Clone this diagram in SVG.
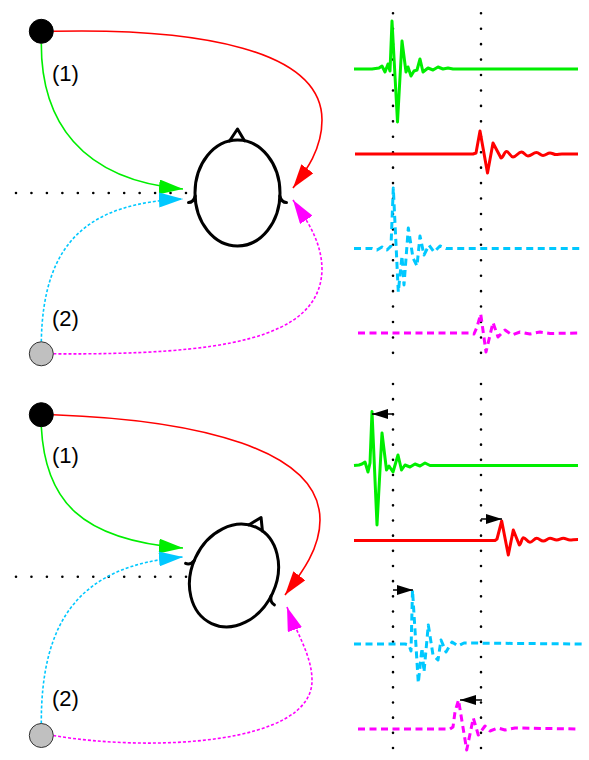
<svg xmlns="http://www.w3.org/2000/svg" width="589" height="760" viewBox="0 0 589 760">
  <style>
    .src { fill: #000000; stroke: #000000; stroke-width: 1; }
    .mic { fill: #c0c0c0; stroke: #333333; stroke-width: 1; }
    .head { fill: none; stroke: #000000; stroke-width: 3; stroke-linejoin: round; stroke-linecap: round; }
    .lbl { font-family: "Liberation Sans", Arial, sans-serif; font-size: 22px; fill: #000000; }
    .guide { fill: none; stroke: #000000; stroke-width: 2.6; stroke-linecap: round; stroke-dasharray: 0 1; }
    .conn { fill: none; stroke-width: 1.6; }
    .dotted { stroke-dasharray: 3 2; }
    .g { stroke: #00ee00; }
    .r { stroke: #ff0000; }
    .c { stroke: #00c8ff; }
    .m { stroke: #ff00ff; }
    .wave { fill: none; stroke-width: 3; stroke-linejoin: round; }
    .wdash { stroke-dasharray: 7 4.5; }
    .shift { fill: none; stroke: #000000; stroke-width: 1.5; }
  </style>
  <defs>
    <marker id="ahG" viewBox="0 0 24 15" refX="24" refY="7.5" markerWidth="24" markerHeight="15" markerUnits="userSpaceOnUse" orient="auto">
      <path d="M0,0 L24,7.5 L0,15 z" fill="#00ee00"/>
    </marker>
    <marker id="ahR" viewBox="0 0 24 15" refX="24" refY="7.5" markerWidth="24" markerHeight="15" markerUnits="userSpaceOnUse" orient="auto">
      <path d="M0,0 L24,7.5 L0,15 z" fill="#ff0000"/>
    </marker>
    <marker id="ahC" viewBox="0 0 24 15" refX="24" refY="7.5" markerWidth="24" markerHeight="15" markerUnits="userSpaceOnUse" orient="auto">
      <path d="M0,0 L24,7.5 L0,15 z" fill="#00c8ff"/>
    </marker>
    <marker id="ahM" viewBox="0 0 24 15" refX="24" refY="7.5" markerWidth="24" markerHeight="15" markerUnits="userSpaceOnUse" orient="auto">
      <path d="M0,0 L24,7.5 L0,15 z" fill="#ff00ff"/>
    </marker>
    <marker id="ahK" viewBox="0 0 16 10" refX="16" refY="5" markerWidth="16" markerHeight="10" markerUnits="userSpaceOnUse" orient="auto">
      <path d="M0,0 L16,5 L0,10 z" fill="#000000"/>
    </marker>
    <!-- head outline centred on the origin: skull, nose and both ears -->
    <g id="headShape">
      <ellipse cx="0" cy="0" rx="42.5" ry="53"/>
      <path d="M-8,-52 L0,-64 L7,-52.3"/>
      <path d="M-42.3,3 Q-44,9.5 -49,9.5"/>
      <path d="M42.3,3 Q44,9.5 49,9.5"/>
    </g>
  </defs>

  <rect x="0" y="0" width="589" height="760" fill="#ffffff"/>

  <!-- dotted reference lines -->
  <g id="guides">
    <path class="guide" d="M16,193 H186" pathLength="11"/>
    <path class="guide" d="M16,576.7 H186" pathLength="11"/>
    <path class="guide" d="M393,13.3 V368.3" pathLength="23"/>
    <path class="guide" d="M481,13.3 V368.3" pathLength="23"/>
    <path class="guide" d="M393,384 V748" pathLength="24"/>
    <path class="guide" d="M481,384 V748" pathLength="24"/>
  </g>

  <!-- propagation paths -->
  <g id="connectors">
    <!-- upper setup -->
    <path class="conn g" d="M41.3,43.5 C41,120 80,180 183,189" marker-end="url(#ahG)"/>
    <path class="conn c dotted" d="M41.3,341.8 C43,240 90,203 183,199" marker-end="url(#ahC)"/>
    <path class="conn r" d="M53.3,31.3 C200,28 322,50 322,120 C322,150 305,172 293,188" marker-end="url(#ahR)"/>
    <path class="conn m dotted" d="M53.3,353.8 C220,355 320,340 322,270 C322,240 305,218 293,200" marker-end="url(#ahM)"/>
    <!-- lower setup -->
    <path class="conn g" d="M41.3,426.7 C45,500 80,540 183,548" marker-end="url(#ahG)"/>
    <path class="conn c dotted" d="M41.3,723.5 C41,620 80,565 183,557" marker-end="url(#ahC)"/>
    <path class="conn r" d="M53.3,414.7 C200,420 320,450 320,520 C320,550 300,575 285,595" marker-end="url(#ahR)"/>
    <path class="conn m dotted" d="M53.3,735.5 C150,752 313,745 312,680 C312,655 295,630 287,607" marker-end="url(#ahM)"/>
  </g>

  <!-- upper setup nodes -->
  <g id="source1-top"><circle class="src" cx="41.3" cy="31.3" r="12"/></g>
  <g id="source2-top"><circle class="mic" cx="41.3" cy="353.8" r="12"/></g>
  <g id="head-top"><use href="#headShape" class="head" transform="translate(237.5,193)"/></g>
  <g id="label1-top"><text class="lbl" x="52" y="80.5">(1)</text></g>
  <g id="label2-top"><text class="lbl" x="52" y="326">(2)</text></g>

  <!-- lower setup nodes -->
  <g id="source1-bottom"><circle class="src" cx="41.3" cy="414.7" r="12"/></g>
  <g id="source2-bottom"><circle class="mic" cx="41.3" cy="735.5" r="12"/></g>
  <g id="head-bottom"><use href="#headShape" class="head" transform="translate(234,575.5) rotate(25)"/></g>
  <g id="label1-bottom"><text class="lbl" x="52" y="462.5">(1)</text></g>
  <g id="label2-bottom"><text class="lbl" x="52" y="706">(2)</text></g>

  <!-- received signals, upper setup -->
  <g id="traces-top">
    <path class="wave g" d="M354,69 L372,69 L379,68 L382,66 L385,72 L388,64 L390,71 L392,21 L397.5,122 L402,41 L406,72 L408,67 L411,76 L414,71 L417,70 L420,59 L423,72 L428,68 L433,70 L438,67 L443,69 L448,68 L453,69 L578,69"/>
    <path class="wave r" d="M355,154 L473,154 L476,153 L480,131 L487.5,173 L493,143 L501,158 C503.2,158 504.3,151.5 506.5,151.5 C509.1,151.5 510.4,157 513,157 C516.4,157 518.1,152 521.5,152 C524.1,152 525.4,156 528,156 C531.4,156 533.1,152.5 536.5,152.5 C539.1,152.5 540.4,155.5 543,155.5 C545.8,155.5 547.2,153 550,153 C552.4,153 553.6,154.5 556,154.5 C558.4,154.5 559.6,154 562,154 L578,154"/>
    <path class="wave c wdash" d="M354,248.5 L372,248.5 L377,250 L382,247 L387,250 L391,246 L393.3,188 L398.3,292 L402,256 L404,285 L408.3,228 L413,258 L417,266 L420,236 L424,255 L429,245 L434,252 L440,246 L446,248.5 L583,248.5"/>
    <path class="wave m wdash" d="M358,333 L470,333 L474,334 L477,327 L480.7,314 L486,352 L493,322.5 L498,337 L505,330 L512,335 L520,332 L530,334 L540,332 L550,333.5 L578,333"/>
  </g>

  <!-- received signals, lower setup, with their time shifts -->
  <g id="traces-bottom">
    <path class="wave g" d="M354,465.5 L359,465 L362,464 L365,462 L368,472 L370,463 L372,411.5 L377,525 L382,433 L386.5,470 L389,466 L393,472 L398,455 L401.5,470 L405,465 L410,467 L415,464 L420,466 L425,463 L430,465.5 L578,465.5"/>
    <path class="wave r" d="M354,540.5 L495,540.5 L497,539 L501.7,521 L508.3,555 L513.3,530 L519.3,545 C521,545 521.7,537.7 523.3,537.7 C526,537.7 527.3,542.3 530,542.3 C532.7,542.3 534,538.3 536.7,538.3 C539.4,538.3 540.6,541 543.3,541 C546,541 547.3,538.3 550,538.3 C552.7,538.3 554,540 556.7,540 C559.4,540 560.6,538.3 563.3,538.3 C566,538.3 567.3,540 570,540 C572.7,540 574,539.5 578,539.5"/>
    <path class="wave c wdash" d="M354,644 L405,644 L409,645 L411,651 L412.5,590 L418.3,683 L422,648 L424,672 L428.3,625 L433,655 L438,660 L441,640 L446,652 L452,642 L458,646 L464,643 L583,644"/>
    <path class="wave m wdash" d="M358,729 L450,729 L453,727 L455,712 L458.5,700 L466.7,750 L473.3,718 L478.3,735 L485,726 L490,731 L498,728 L505,730 L515,728 L578,729"/>
  </g>

  <g id="shift-arrows">
    <path class="shift" d="M393,414 L372,414" marker-end="url(#ahK)"/>
    <path class="shift" d="M481,519 L502,519" marker-end="url(#ahK)"/>
    <path class="shift" d="M393,590 L413,590" marker-end="url(#ahK)"/>
    <path class="shift" d="M482,700 L460,700" marker-end="url(#ahK)"/>
  </g>
</svg>
